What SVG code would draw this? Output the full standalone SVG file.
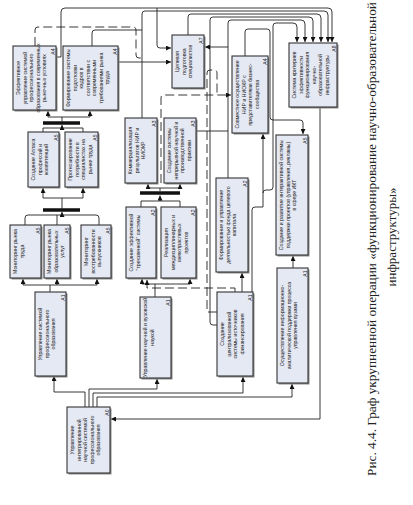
<svg xmlns="http://www.w3.org/2000/svg" width="413" height="505" viewBox="0 0 413 505">
<style>
.bx{fill:#e5e9f4;stroke:#333;stroke-width:1.1}
.sh{fill:#8a8a8a}
.t{font-family:"Liberation Sans",Arial,sans-serif;font-size:5.2px;fill:#222;text-anchor:middle}
.l{font-family:"Liberation Sans",Arial,sans-serif;font-size:5px;fill:#222;text-anchor:end}
.c{fill:none;stroke:#222;stroke-width:0.9}
.a{marker-end:url(#ar)}
.d{fill:none;stroke:#222;stroke-width:0.9;stroke-dasharray:9 4}
.bar{stroke:#111;stroke-width:3.5}
.cap{font-family:"Liberation Serif","Times New Roman",serif;font-size:13px;fill:#222}
</style>
<defs>
<marker id="ar" viewBox="0 0 6 6" refX="6" refY="3" markerWidth="5" markerHeight="5" markerUnits="userSpaceOnUse" orient="auto"><path d="M0,0L6,3L0,6z" fill="#111"/></marker>
</defs>

<g id="connectors">
<!-- top bus lines to B5 -->
<path class="c a" d="M56,57 H61 V12 Q61,8 65,8 H328 Q332,8 332,12 V42"/>
<path class="c a" d="M157,8 V45 Q157,48 160,48 H171"/>
<path class="c a" d="M118,62 H171"/>
<path class="c" d="M92,46 V33 Q92,30 95,30 H142"/>
<path class="c a" d="M142,118 V14 Q142,11 145,11 H324 Q328,11 328,15 V42"/>
<path class="c a" d="M188,35 V17 Q188,14 191,14 H317 Q321,14 321,18 V42"/>
<path class="c a" d="M217,325 H213 Q210,325 210,322 V20 Q210,17 213,17 H309 Q313,17 313,21 V42"/>
<path class="c" d="M196,131 H228"/>
<path class="c a" d="M228,178 V23 Q228,20 231,20 H301 Q305,20 305,24 V42"/>
<path class="c a" d="M228,47 H205"/>
<path class="c a" d="M245,56 V32 Q245,29 248,29 H267 Q270,29 270,32 V117 Q270,120 273,120 H300 Q303,120 303,123 V134"/>
<path class="c a" d="M252,292 V210 Q252,207 255,207 H263 V134"/>
<path class="c a" d="M263,193 Q263,190 266,190 H270 Q273,190 273,187 V26 Q273,23 276,23 H293 Q297,23 297,27 V42"/>
<path class="c a" d="M293,268 V256"/>
<path class="c a" d="M242,292 V273"/>
<path class="c a" d="M320,107 V419 H111"/>
<!-- A0 to level 1 -->
<path class="c a" d="M85,407 V392 H54 V376"/>
<path class="c a" d="M89,407 V389 H157 V379"/>
<path class="c a" d="M93,407 V393 H243 V377"/>
<path class="c a" d="M97,407 V397 H292 V384"/>
<!-- B18 to monitoring -->
<path class="c a" d="M50,292 V285 H23 V279"/>
<path class="c a" d="M50,285 H97 V279"/>
<path class="c a" d="M57,285 V279"/>
<!-- monitoring to bar -->
<path class="c" d="M25,225 V218 Q25,215 28,215 H96 Q99,215 99,218 V225"/>
<path class="c" d="M57,225 V215"/>
<path class="c a" d="M62,215 V212"/>
<line class="bar" x1="43" y1="210" x2="80" y2="210"/>
<path class="c a" d="M62,209 V198 H43 V188"/>
<path class="c a" d="M62,198 H83 V188"/>
<!-- B6/B7 to bar to B1/B2 -->
<path class="c" d="M43,132 V128 H83 V132"/>
<path class="c a" d="M62,128 V125"/>
<line class="bar" x1="43" y1="123" x2="80" y2="123"/>
<path class="c a" d="M62,122 V117 H48 V111"/>
<path class="c a" d="M62,117 H90 V111"/>
<!-- B20 to B14/B15 -->
<path class="c a" d="M155,297 V284 H142 V279"/>
<path class="c a" d="M155,284 H190 V279"/>
<path class="c" d="M141,207 V201 H180 V207"/>
<path class="c a" d="M160,201 V195.5"/>
<line class="bar" x1="140" y1="193" x2="180" y2="193"/>
<path class="c a" d="M160,191 V188 H148 V184"/>
<path class="c a" d="M160,188 H180 V184"/>
<!-- dashed -->
<path class="d" d="M35,46 V30 Q35,27 38,27 H133 Q136,27 136,30 V55 Q136,58 139,58 H142"/>
<path class="d a" d="M161,183 V98 Q161,95 164,95 H231"/>
<path class="d" d="M217,312 H207 V73 Q207,70 210,70 H214 Q217,70 217,73 V95"/>
<path class="d a" d="M235,292 V288 H147 V280"/>
</g>

<g id="B1"><rect class="sh" x="14.5" y="47.5" width="43" height="64"/><rect class="bx" x="13" y="46" width="43" height="64"/>
<text class="t" transform="translate(13,78) rotate(-90)"><tspan x="0" y="7">Эффективное</tspan><tspan x="0" y="13.5">управление системой</tspan><tspan x="0" y="20">профессионального</tspan><tspan x="0" y="26.5">образования в современных</tspan><tspan x="0" y="33">рыночных условиях</tspan></text>
<text class="l" transform="translate(54.5,48.5) rotate(-90)">A4</text></g>

<g id="B2"><rect class="sh" x="64.5" y="47.5" width="55" height="64"/><rect class="bx" x="63" y="46" width="55" height="64"/>
<text class="t" transform="translate(63,78) rotate(-90)"><tspan x="0" y="7">Формирование системы</tspan><tspan x="0" y="13.5">подготовки</tspan><tspan x="0" y="20">кадров в</tspan><tspan x="0" y="26.5">соответствии с</tspan><tspan x="0" y="33">современными</tspan><tspan x="0" y="39.5">требованиями рынка</tspan><tspan x="0" y="46">труда</tspan></text>
<text class="l" transform="translate(116.5,48.5) rotate(-90)">A4</text></g>

<g id="B3"><rect class="sh" x="173.5" y="36.5" width="32" height="53"/><rect class="bx" x="172" y="35" width="32" height="53"/>
<text class="t" transform="translate(172,61.5) rotate(-90)"><tspan x="0" y="7">Целевая</tspan><tspan x="0" y="13.5">подготовка</tspan><tspan x="0" y="20">специалистов</tspan></text>
<text class="l" transform="translate(202.5,37.5) rotate(-90)">A7</text></g>

<g id="B4"><rect class="sh" x="233.5" y="57.5" width="36" height="77"/><rect class="bx" x="232" y="56" width="36" height="77"/>
<text class="t" transform="translate(232,94.5) rotate(-90)"><tspan x="0" y="7">Совместное осуществление</tspan><tspan x="0" y="13.5">НИР и НИОКР с</tspan><tspan x="0" y="20">представителями бизнес-</tspan><tspan x="0" y="26.5">сообщества</tspan></text>
<text class="l" transform="translate(266.5,58.5) rotate(-90)">A4</text></g>

<g id="B5"><rect class="sh" x="290.5" y="44.5" width="48" height="64"/><rect class="bx" x="289" y="43" width="48" height="64"/>
<text class="t" transform="translate(289,75) rotate(-90)"><tspan x="0" y="7">Система критериев</tspan><tspan x="0" y="13.5">эффективности</tspan><tspan x="0" y="20">функционирования</tspan><tspan x="0" y="26.5">научно-</tspan><tspan x="0" y="33">образовательной</tspan><tspan x="0" y="39.5">инфраструктуры</tspan></text>
<text class="l" transform="translate(335.5,45.5) rotate(-90)">A8</text></g>

<g id="B6"><rect class="sh" x="29.5" y="133.5" width="31" height="55"/><rect class="bx" x="28" y="132" width="31" height="55"/>
<text class="t" transform="translate(28,159.5) rotate(-90)"><tspan x="0" y="7">Создание Атласа</tspan><tspan x="0" y="13.5">профессий и</tspan><tspan x="0" y="20">компетенций</tspan></text>
<text class="l" transform="translate(57.5,134.5) rotate(-90)">A5</text></g>

<g id="B7"><rect class="sh" x="66.5" y="133.5" width="33" height="55"/><rect class="bx" x="65" y="132" width="33" height="55"/>
<text class="t" transform="translate(65,159.5) rotate(-90)"><tspan x="0" y="7">Прогнозирование</tspan><tspan x="0" y="13.5">потребности в</tspan><tspan x="0" y="20">специалистах на</tspan><tspan x="0" y="26.5">рынке труда</tspan></text>
<text class="l" transform="translate(96.5,134.5) rotate(-90)">A5</text></g>

<g id="B8"><rect class="sh" x="126.5" y="119.5" width="32" height="65"/><rect class="bx" x="125" y="118" width="32" height="65"/>
<text class="t" transform="translate(125,150.5) rotate(-90)"><tspan x="0" y="7">Коммерциализация</tspan><tspan x="0" y="13.5">результатов НИР и</tspan><tspan x="0" y="20">НИОКР</tspan></text>
<text class="l" transform="translate(155.5,120.5) rotate(-90)">A3</text></g>

<g id="B9"><rect class="sh" x="165.5" y="119.5" width="32" height="65"/><rect class="bx" x="164" y="118" width="32" height="65"/>
<text class="t" transform="translate(164,150.5) rotate(-90)"><tspan x="0" y="7">Создание системы</tspan><tspan x="0" y="13.5">непрерывной научной и</tspan><tspan x="0" y="20">производственной</tspan><tspan x="0" y="26.5">практики</tspan></text>
<text class="l" transform="translate(194.5,120.5) rotate(-90)">A3</text></g>

<g id="B10"><rect class="sh" x="277.5" y="136.5" width="32" height="120"/><rect class="bx" x="276" y="135" width="32" height="120"/>
<text class="t" transform="translate(276,195) rotate(-90)"><tspan x="0" y="7">Создание и развитие интерактивной системы</tspan><tspan x="0" y="13.5">поддержки проектов (управления, рекламы)</tspan><tspan x="0" y="20">в сфере ИКТ</tspan></text>
<text class="l" transform="translate(306.5,137.5) rotate(-90)">A5</text></g>

<g id="B11"><rect class="sh" x="11.5" y="226.5" width="31" height="53"/><rect class="bx" x="10" y="225" width="31" height="53"/>
<text class="t" transform="translate(10,251.5) rotate(-90)"><tspan x="0" y="7">Мониторинг рынка</tspan><tspan x="0" y="13.5">труда</tspan></text>
<text class="l" transform="translate(39.5,227.5) rotate(-90)">A5</text></g>

<g id="B12"><rect class="sh" x="45.5" y="226.5" width="26" height="53"/><rect class="bx" x="44" y="225" width="26" height="53"/>
<text class="t" transform="translate(44,251.5) rotate(-90)"><tspan x="0" y="7">Мониторинг рынка</tspan><tspan x="0" y="13.5">образовательных</tspan><tspan x="0" y="20">услуг</tspan></text>
<text class="l" transform="translate(68.5,227.5) rotate(-90)">A5</text></g>

<g id="B13"><rect class="sh" x="82.5" y="226.5" width="30" height="53"/><rect class="bx" x="81" y="225" width="30" height="53"/>
<text class="t" transform="translate(81,251.5) rotate(-90)"><tspan x="0" y="7">Мониторинг</tspan><tspan x="0" y="13.5">востребованности</tspan><tspan x="0" y="20">выпускников</tspan></text>
<text class="l" transform="translate(109.5,227.5) rotate(-90)">A5</text></g>

<g id="B14"><rect class="sh" x="127.5" y="208.5" width="30" height="71"/><rect class="bx" x="126" y="207" width="30" height="71"/>
<text class="t" transform="translate(126,242.5) rotate(-90)"><tspan x="0" y="7">Создание эффективной</tspan><tspan x="0" y="13.5">"трехзвенной" системы</tspan></text>
<text class="l" transform="translate(154.5,209.5) rotate(-90)">A2</text></g>

<g id="B15"><rect class="sh" x="162.5" y="208.5" width="35" height="71"/><rect class="bx" x="161" y="207" width="35" height="71"/>
<text class="t" transform="translate(161,242.5) rotate(-90)"><tspan x="0" y="7">Реализация</tspan><tspan x="0" y="13.5">междисциплинарных и</tspan><tspan x="0" y="20">межотраслевых</tspan><tspan x="0" y="26.5">проектов</tspan></text>
<text class="l" transform="translate(194.5,209.5) rotate(-90)">A2</text></g>

<g id="B16"><rect class="sh" x="217.5" y="179.5" width="32" height="94"/><rect class="bx" x="216" y="178" width="32" height="94"/>
<text class="t" transform="translate(216,225) rotate(-90)"><tspan x="0" y="7">Формирование и управление</tspan><tspan x="0" y="13.5">деятельностью фонда целевого</tspan><tspan x="0" y="20">капитала</tspan></text>
<text class="l" transform="translate(246.5,180.5) rotate(-90)">A2</text></g>

<g id="B17"><rect class="sh" x="278.5" y="269.5" width="31" height="115"/><rect class="bx" x="277" y="268" width="31" height="115"/>
<text class="t" transform="translate(277,325.5) rotate(-90)"><tspan x="0" y="7">Осуществление информационно-</tspan><tspan x="0" y="13.5">аналитической поддержки процесса</tspan><tspan x="0" y="20">управления вузами</tspan></text>
<text class="l" transform="translate(306.5,270.5) rotate(-90)">A1</text></g>

<g id="B18"><rect class="sh" x="36.5" y="293.5" width="31" height="84"/><rect class="bx" x="35" y="292" width="31" height="84"/>
<text class="t" transform="translate(35,334) rotate(-90)"><tspan x="0" y="7">Управление системой</tspan><tspan x="0" y="13.5">профессионального</tspan><tspan x="0" y="20">образования</tspan></text>
<text class="l" transform="translate(64.5,294.5) rotate(-90)">A1</text></g>

<g id="B19"><rect class="sh" x="218.5" y="293.5" width="36" height="84"/><rect class="bx" x="217" y="292" width="36" height="84"/>
<text class="t" transform="translate(217,334) rotate(-90)"><tspan x="0" y="7">Создание</tspan><tspan x="0" y="13.5">централизованной</tspan><tspan x="0" y="20">системы источников</tspan><tspan x="0" y="26.5">финансирования</tspan></text>
<text class="l" transform="translate(251.5,294.5) rotate(-90)">A1</text></g>

<g id="B20"><rect class="sh" x="141.5" y="298.5" width="31" height="81"/><rect class="bx" x="140" y="297" width="31" height="81"/>
<text class="t" transform="translate(140,337.5) rotate(-90)"><tspan x="0" y="7">Управление научной и вузовской</tspan><tspan x="0" y="13.5">наукой</tspan></text>
<text class="l" transform="translate(169.5,299.5) rotate(-90)">A1</text></g>

<g id="A0"><rect class="sh" x="68.5" y="408.5" width="43" height="66"/><rect class="bx" x="67" y="407" width="43" height="66"/>
<text class="t" transform="translate(67,440) rotate(-90)"><tspan x="0" y="7">Управление</tspan><tspan x="0" y="13.5">интегрированной</tspan><tspan x="0" y="20">научной системой</tspan><tspan x="0" y="26.5">профессионального</tspan><tspan x="0" y="33">образования</tspan></text>
<text class="l" transform="translate(108.5,409.5) rotate(-90)">A0</text></g>

<g id="caption">
<text class="cap" transform="translate(376,476) rotate(-90)" textLength="474" lengthAdjust="spacingAndGlyphs">Рис. 4.4. Граф укрупненной операции «функционирование научно-образовательной</text>
<text class="cap" transform="translate(396,237) rotate(-90)" text-anchor="middle">инфраструктуры»</text>
</g>
</svg>
